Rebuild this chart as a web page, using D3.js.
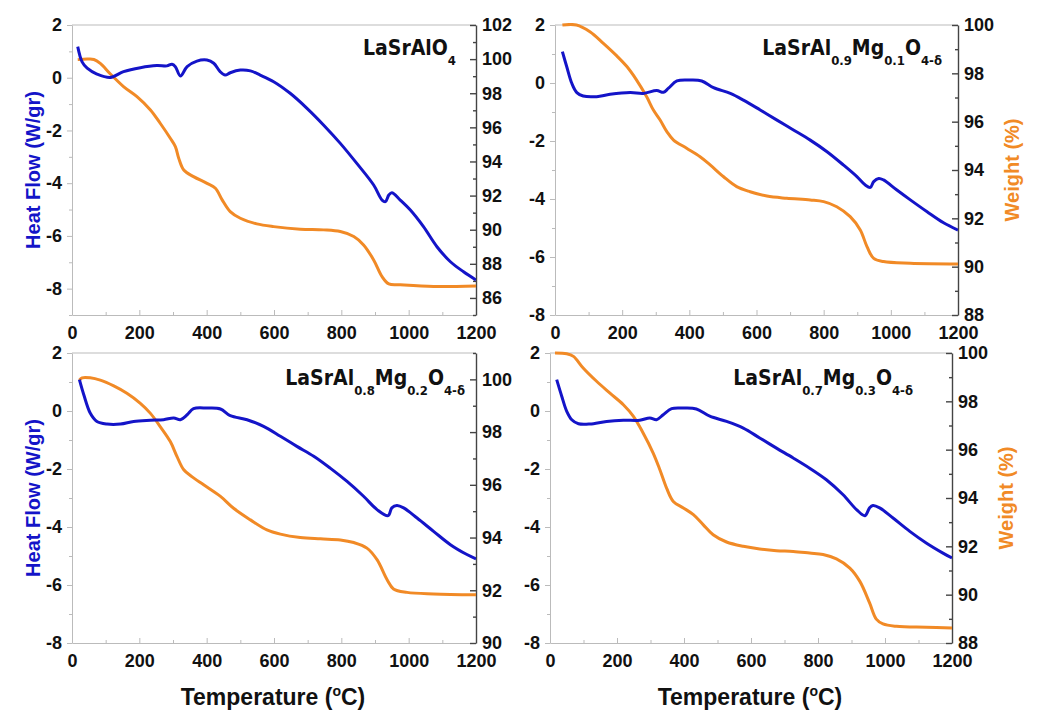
<html>
<head>
<script src="https://cdn.jsdelivr.net/npm/d3@7"></script>
<style>
  body { margin: 0; background: #fff; }
  svg text { font-family: "Liberation Sans", Arial, sans-serif; font-weight: bold; }
  .tick text { fill: #111; font-size: 18px; }
  .title { font-family: "DejaVu Sans Condensed", "DejaVu Sans", sans-serif; font-weight: bold; fill: #111; }
  .light path, .light line { stroke: #bbb; }
  .dark path, .dark line { stroke: #444; stroke-width: 1.4; }
</style>
</head>
<body>
<svg width="1042" height="711" id="chart"></svg>
<script>
// LaSrAlO4
var t1hf = [17,30,45,74,114,153,203,252,282,297,307,322,342,371,401,421,440,455,470,500,530,559,599,648,698,747,797,846,896,921,931,941,950,975,1005,1044,1084,1124,1163,1200];
var hf1  = [1.18,0.6,0.36,0.14,0.01,0.23,0.38,0.46,0.45,0.51,0.42,0.07,0.42,0.63,0.67,0.55,0.23,0.1,0.19,0.29,0.26,0.1,-0.15,-0.59,-1.16,-1.79,-2.49,-3.25,-4.07,-4.64,-4.7,-4.45,-4.36,-4.64,-5.02,-5.65,-6.41,-6.98,-7.36,-7.67];
var t1w  = [17,45,65,84,114,153,193,233,262,292,307,317,332,361,401,426,446,470,500,549,599,678,747,797,837,866,896,921,941,975,1074,1200];
var w1   = [99.97,100.0,99.98,99.75,99.13,98.39,97.8,97.02,96.24,95.36,94.87,94.19,93.5,93.11,92.72,92.43,91.75,91.06,90.67,90.34,90.18,90.03,89.99,89.89,89.6,89.11,88.23,87.25,86.82,86.77,86.67,86.7];

// LaSrAl0.9Mg0.1O4-d
var t2hf = [22,35,50,65,84,124,164,224,263,303,323,338,363,402,437,472,522,561,611,661,710,760,810,859,899,924,939,949,964,978,1018,1058,1108,1157,1200];
var hf2  = [1.08,0.56,-0.01,-0.33,-0.45,-0.47,-0.39,-0.33,-0.36,-0.26,-0.32,-0.18,0.07,0.1,0.07,-0.16,-0.36,-0.59,-0.93,-1.28,-1.62,-1.97,-2.37,-2.83,-3.23,-3.52,-3.6,-3.4,-3.29,-3.34,-3.69,-4.03,-4.44,-4.82,-5.07];
var t2w  = [22,64,104,144,184,214,243,273,293,313,333,353,392,432,462,502,541,581,631,690,760,800,839,879,909,929,949,978,1058,1200];
var w2   = [100,100,99.72,99.24,98.72,98.28,97.72,97.03,96.48,96.07,95.59,95.24,94.9,94.55,94.21,93.72,93.31,93.1,92.92,92.83,92.76,92.69,92.48,92.07,91.52,90.83,90.34,90.21,90.14,90.11];

// LaSrAl0.8Mg0.2O4-d
var t3hf = [22,35,54,74,104,144,183,233,272,302,322,342,361,401,441,470,520,569,619,668,718,767,817,866,906,939,950,965,985,1025,1074,1124,1173,1200];
var hf3  = [1.08,0.56,-0.07,-0.36,-0.45,-0.45,-0.36,-0.32,-0.3,-0.24,-0.3,-0.13,0.08,0.1,0.07,-0.16,-0.3,-0.53,-0.87,-1.22,-1.56,-1.97,-2.43,-2.94,-3.4,-3.61,-3.34,-3.26,-3.34,-3.69,-4.15,-4.61,-4.95,-5.1];
var t3w  = [22,30,54,84,124,163,203,233,262,292,312,332,356,391,441,480,530,579,619,678,738,797,837,876,906,936,955,995,1074,1200];
var w3   = [99.97,100.06,100.06,99.97,99.75,99.47,99.09,98.71,98.21,97.64,97.07,96.57,96.31,96.0,95.56,95.11,94.67,94.29,94.13,94.0,93.95,93.91,93.81,93.6,93.16,92.4,92.05,91.92,91.86,91.83];

// LaSrAl0.7Mg0.3O4-d
var t4hf = [20,35,50,65,85,119,169,219,268,298,318,338,363,398,437,477,527,577,626,676,726,775,825,875,915,940,954,964,984,1024,1074,1123,1173,1200];
var hf4  = [1.08,0.51,-0.01,-0.3,-0.44,-0.45,-0.36,-0.32,-0.32,-0.24,-0.3,-0.13,0.08,0.1,0.07,-0.18,-0.36,-0.59,-0.93,-1.28,-1.62,-1.97,-2.37,-2.89,-3.4,-3.61,-3.34,-3.26,-3.34,-3.69,-4.15,-4.55,-4.9,-5.07];
var t4w  = [15,50,70,99,139,179,219,249,278,308,328,348,368,398,428,457,487,527,577,626,676,726,775,815,855,895,925,954,974,994,1034,1123,1200];
var w4   = [100,99.97,99.86,99.38,98.83,98.34,97.86,97.38,96.69,95.86,95.17,94.41,93.86,93.59,93.31,92.9,92.48,92.18,92.0,91.89,91.82,91.79,91.72,91.66,91.48,91.1,90.55,89.66,88.99,88.79,88.69,88.65,88.62];

var xTicks = [0,200,400,600,800,1000,1200];

var blue = "#1414c8", orange = "#f18a26";

var panels = [
  {x0: 72, x1: 476, y0: 25, y1: 315, hfDom: [-9,2], wDom: [85,102], wTicks: [86,88,90,92,94,96,98,100,102],
   t: t1hf, hf: hf1, tw: t1w, w: w1, title: [["LaSrAlO",""],["4","sub"]], tx: 456, ty: 55,
   hfLabel: true, wLabel: false, tLabel: false},
  {x0: 555, x1: 958, y0: 25, y1: 315, hfDom: [-8,2], wDom: [88,100], wTicks: [88,90,92,94,96,98,100],
   t: t2hf, hf: hf2, tw: t2w, w: w2, title: [["LaSrAl",""],["0.9","sub"],["Mg",""],["0.1","sub"],["O",""],["4-δ","sub"]], tx: 942, ty: 55,
   hfLabel: false, wLabel: true, tLabel: false},
  {x0: 72, x1: 476, y0: 353, y1: 643, hfDom: [-8,2], wDom: [90,101], wTicks: [90,92,94,96,98,100],
   t: t3hf, hf: hf3, tw: t3w, w: w3, title: [["LaSrAl",""],["0.8","sub"],["Mg",""],["0.2","sub"],["O",""],["4-δ","sub"]], tx: 465, ty: 385,
   hfLabel: true, wLabel: false, tLabel: true},
  {x0: 550, x1: 952, y0: 353, y1: 643, hfDom: [-8,2], wDom: [88,100], wTicks: [88,90,92,94,96,98,100],
   t: t4hf, hf: hf4, tw: t4w, w: w4, title: [["LaSrAl",""],["0.7","sub"],["Mg",""],["0.3","sub"],["O",""],["4-δ","sub"]], tx: 913, ty: 385,
   hfLabel: false, wLabel: true, tLabel: true}
];

var svg = d3.select("#chart");
// plain hyphen for negatives, like the original
var fmt = function(d) { return String(d); };

panels.forEach(function(p, i) {
  var x = d3.scaleLinear().domain([0,1200]).range([p.x0, p.x1]);
  var yl = d3.scaleLinear().domain(p.hfDom).range([p.y1, p.y0]);
  var yr = d3.scaleLinear().domain(p.wDom).range([p.y1, p.y0]);
  var g = svg.append("g");

  // frame top
  g.append("line").attr("x1", p.x0).attr("x2", p.x1).attr("y1", p.y0).attr("y2", p.y0)
    .attr("stroke", "#bbb");

  // bottom axis, ticks inward
  g.append("g").attr("class", "light").attr("transform", "translate(0," + p.y1 + ")")
    .call(d3.axisBottom(x).tickValues(d3.range(100, 1200, 200)).tickSize(-3).tickFormat(""))
    .select(".domain").remove();
  g.append("g").attr("class", "light").attr("transform", "translate(0," + p.y1 + ")")
    .call(d3.axisBottom(x).tickValues(xTicks).tickSizeInner(-5).tickSizeOuter(0).tickPadding(11).tickFormat(fmt));

  // left axis, ticks outward
  var hfMajor = d3.range(-8, 2.01, 2);
  var hfMinor = d3.range(p.hfDom[0], p.hfDom[1] + 0.01, 1).filter(function(v) { return hfMajor.indexOf(v) < 0; });
  g.append("g").attr("class", "light").attr("transform", "translate(" + p.x0 + ",0)")
    .call(d3.axisLeft(yl).tickValues(hfMinor).tickSize(3).tickFormat(""))
    .select(".domain").remove();
  g.append("g").attr("class", "light").attr("transform", "translate(" + p.x0 + ",0)")
    .call(d3.axisLeft(yl).tickValues(hfMajor).tickSizeInner(5).tickSizeOuter(0).tickPadding(5).tickFormat(fmt));

  // right axis, ticks inward
  var wMinor = d3.range(p.wDom[0], p.wDom[1] + 0.01, 1).filter(function(v) { return p.wTicks.indexOf(v) < 0; });
  g.append("g").attr("class", "dark").attr("transform", "translate(" + p.x1 + ",0)")
    .call(d3.axisRight(yr).tickValues(wMinor).tickSize(-3).tickFormat(""))
    .select(".domain").remove();
  g.append("g").attr("class", "dark").attr("transform", "translate(" + p.x1 + ",0)")
    .call(d3.axisRight(yr).tickValues(p.wTicks).tickSizeInner(-6).tickSizeOuter(0).tickPadding(6).tickFormat(fmt));

  // curves
  var clipId = "clip" + i;
  svg.append("clipPath").attr("id", clipId).append("rect")
    .attr("x", p.x0).attr("y", p.y0 - 2).attr("width", p.x1 - p.x0).attr("height", p.y1 - p.y0 + 4);

  var wLine = d3.line().curve(d3.curveCatmullRom.alpha(0.5))
    .x(function(d) { return x(d[0]); }).y(function(d) { return yr(d[1]); });
  var hLine = d3.line().curve(d3.curveCatmullRom.alpha(0.5))
    .x(function(d) { return x(d[0]); }).y(function(d) { return yl(d[1]); });

  g.append("path").datum(d3.zip(p.tw, p.w)).attr("d", wLine)
    .attr("clip-path", "url(#" + clipId + ")")
    .attr("fill", "none").attr("stroke", orange).attr("stroke-width", 3);
  g.append("path").datum(d3.zip(p.t, p.hf)).attr("d", hLine)
    .attr("clip-path", "url(#" + clipId + ")")
    .attr("fill", "none").attr("stroke", blue).attr("stroke-width", 3);

  // sample name
  var title = g.append("text").attr("class", "title").attr("x", p.tx).attr("y", p.ty)
    .attr("text-anchor", "end").style("font-size", "21px");
  var shifted = false;
  p.title.forEach(function(part) {
    var s = title.append("tspan").text(part[0]);
    if (part[1] == "sub") {
      s.style("font-size", "13px").attr("dy", shifted ? 0 : 10);
      shifted = true;
    } else {
      if (shifted) s.attr("dy", -10);
      shifted = false;
    }
  });

  if (p.hfLabel) {
    g.append("text").attr("transform", "translate(40," + ((p.y0 + p.y1) / 2) + ") rotate(-90)")
      .attr("text-anchor", "middle").attr("fill", blue).style("font-size", "20px")
      .text("Heat Flow (W/gr)");
  }
  if (p.wLabel) {
    g.append("text").attr("transform", "translate(" + (p.x1 + 61) + "," + ((p.y0 + p.y1) / 2) + ") rotate(-90)")
      .attr("text-anchor", "middle").attr("fill", orange).style("font-size", "20px")
      .text("Weight (%)");
  }
  if (p.tLabel) {
    var tl = g.append("text").attr("x", (p.x0 + p.x1) / 2 - 1).attr("y", 705)
      .attr("text-anchor", "middle").attr("fill", "#111").style("font-size", "23px");
    tl.append("tspan").text("Temperature (");
    tl.append("tspan").text("o").style("font-size", "14px").attr("dy", -9);
    tl.append("tspan").text("C)").attr("dy", 9);
  }
});
</script>
</body>
</html>
